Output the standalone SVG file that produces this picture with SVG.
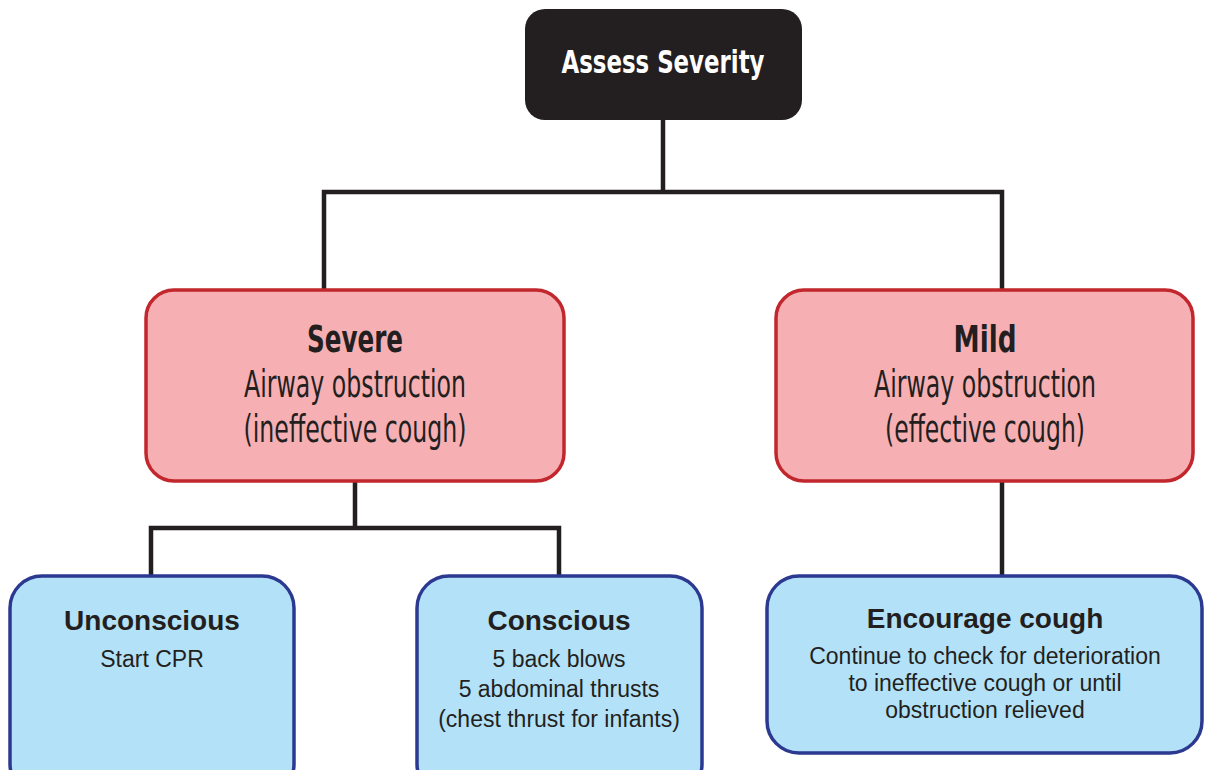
<svg xmlns="http://www.w3.org/2000/svg" width="1206" height="770" viewBox="0 0 1206 770">
<style>
.red{fill:#f6b0b4;stroke:#c1272d;stroke-width:3.5}
.blue{fill:#b3e2f8;stroke:#2b3990;stroke-width:3.5}
.conn{fill:none;stroke:#231f20;stroke-width:4.5}
.nb{font-family:"Liberation Sans Narrow","DejaVu Sans Condensed",sans-serif;font-weight:bold;text-anchor:middle;fill:#231f20}
.nl{font-family:"Liberation Sans Narrow","DejaVu Sans Condensed",sans-serif;font-weight:normal;text-anchor:middle;fill:#231f20}
.b{font-family:"Liberation Sans",Arial,sans-serif;font-weight:bold;text-anchor:middle;fill:#231f20}
.r{font-family:"Liberation Sans",Arial,sans-serif;text-anchor:middle;fill:#231f20}
</style>
<rect width="1206" height="770" fill="#ffffff"/>
<g id="connectors">
<path class="conn" d="M663 120 V192 M324 290 V192 H1002 V290"/>
<path class="conn" d="M355 482 V528 M151 576 V528 H559 V576"/>
<path class="conn" d="M1002 482 V576"/>
</g>
<g id="assess">
<rect x="525" y="9" width="277" height="111" rx="20" fill="#231f20"/>
<text class="nb" x="663" y="73" font-size="32" style="fill:#ffffff" textLength="203" lengthAdjust="spacingAndGlyphs">Assess Severity</text>
</g>
<g id="severe">
<rect class="red" x="146" y="290" width="418" height="191" rx="28"/>
<text class="nb" x="355" y="352" font-size="38" textLength="96" lengthAdjust="spacingAndGlyphs">Severe</text>
<text class="nl" x="355" y="397" font-size="37" textLength="222" lengthAdjust="spacingAndGlyphs">Airway obstruction</text>
<text class="nl" x="355" y="442" font-size="37" textLength="223" lengthAdjust="spacingAndGlyphs">(ineffective cough)</text>
</g>
<g id="mild">
<rect class="red" x="776" y="290" width="417" height="191" rx="28"/>
<text class="nb" x="985" y="352" font-size="38" textLength="63" lengthAdjust="spacingAndGlyphs">Mild</text>
<text class="nl" x="985" y="397" font-size="37" textLength="222" lengthAdjust="spacingAndGlyphs">Airway obstruction</text>
<text class="nl" x="985" y="442" font-size="37" textLength="200" lengthAdjust="spacingAndGlyphs">(effective cough)</text>
</g>
<g id="unconscious">
<rect class="blue" x="10" y="576" width="284" height="220" rx="32"/>
<text class="b" x="152" y="630" font-size="28">Unconscious</text>
<text class="r" x="152" y="667" font-size="23">Start CPR</text>
</g>
<g id="conscious">
<rect class="blue" x="417" y="576" width="285" height="220" rx="32"/>
<text class="b" x="559" y="630" font-size="28">Conscious</text>
<text class="r" x="559" y="667" font-size="23">5 back blows</text>
<text class="r" x="559" y="697" font-size="23">5 abdominal thrusts</text>
<text class="r" x="559" y="727" font-size="23">(chest thrust for infants)</text>
</g>
<g id="encourage">
<rect class="blue" x="767" y="576" width="435" height="177" rx="32"/>
<text class="b" x="985" y="628" font-size="28">Encourage cough</text>
<text class="r" x="985" y="664" font-size="23">Continue to check for deterioration</text>
<text class="r" x="985" y="691" font-size="23">to ineffective cough or until</text>
<text class="r" x="985" y="718" font-size="23">obstruction relieved</text>
</g>
</svg>
